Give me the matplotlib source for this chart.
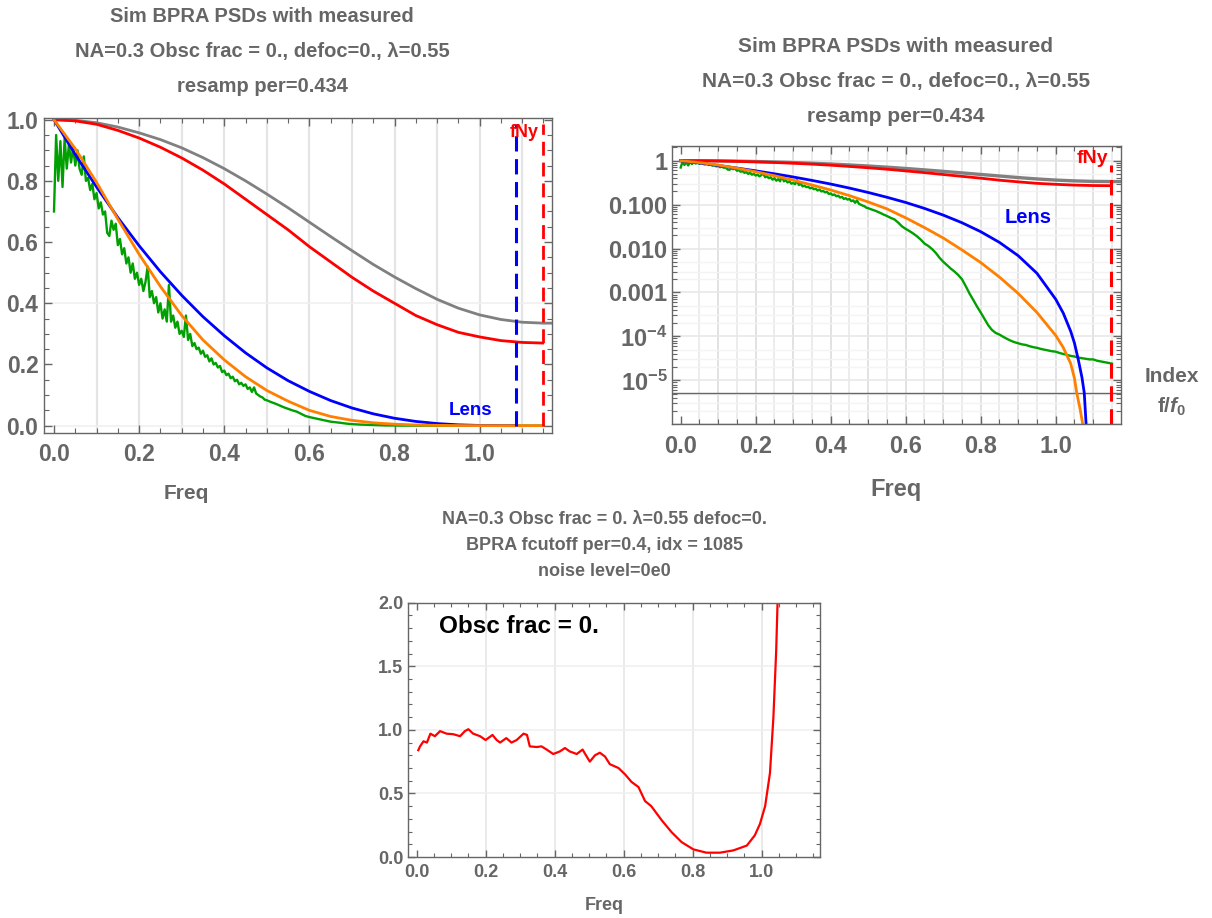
import numpy as np
import matplotlib
matplotlib.use('Agg')
import matplotlib.pyplot as plt
from matplotlib.ticker import (MultipleLocator, FixedLocator, FixedFormatter,
                               NullFormatter, FormatStrFormatter)

plt.rcParams['font.family'] = ['Liberation Sans', 'DejaVu Sans']
plt.rcParams['font.weight'] = 'bold'
plt.rcParams['mathtext.fontset'] = 'custom'
plt.rcParams['mathtext.rm'] = 'Liberation Sans:bold'
plt.rcParams['mathtext.it'] = 'Liberation Sans:italic:bold'
plt.rcParams['mathtext.bf'] = 'Liberation Sans:bold'
plt.rcParams['mathtext.default'] = 'rm'

GRAY = '#666666'

# ---- data ----
f_step = [0.0, 0.05, 0.1, 0.15, 0.2, 0.25, 0.3, 0.35, 0.4, 0.45, 0.5, 0.55,
          0.6, 0.65, 0.7, 0.75, 0.8, 0.85, 0.9, 0.95, 1.0]

gray_f = f_step + [1.05, 1.1, 1.15, 1.17]
gray_v = [1.0, 0.998, 0.99, 0.976, 0.957, 0.935, 0.908, 0.876, 0.84, 0.80, 0.757,
          0.712, 0.665, 0.618, 0.572, 0.527, 0.486, 0.448, 0.413, 0.384, 0.362,
          0.347, 0.338, 0.335, 0.335]

red_f = f_step + [1.05, 1.1, 1.148]
red_v = [1.0, 0.996, 0.985, 0.965, 0.94, 0.91, 0.875, 0.835, 0.79, 0.74, 0.69,
         0.64, 0.585, 0.535, 0.485, 0.44, 0.40, 0.36, 0.33, 0.305, 0.29,
         0.278, 0.272, 0.27]

blue_f = f_step + [1.02, 1.04, 1.05, 1.06, 1.07, 1.076, 1.081, 1.084, 1.086]
blue_v = [1.0, 0.886, 0.780, 0.680, 0.588, 0.503, 0.426, 0.356, 0.294, 0.238,
          0.189, 0.147, 0.112, 0.082, 0.0578, 0.0387, 0.0242, 0.0138, 0.00687,
          0.00273, 7.0e-4, 3.4e-4, 1.3e-4, 7.0e-5, 3.0e-5, 1.15e-5, 5.2e-6,
          1.0e-6, 3e-7, 0.0]

orange_f = f_step + [1.02, 1.04, 1.05, 1.056, 1.065, 1.072, 1.076, 1.148]
orange_v = [1.0, 0.905, 0.795, 0.675, 0.56, 0.455, 0.36, 0.28, 0.215, 0.16, 0.115,
            0.08, 0.05, 0.030, 0.0174, 0.0093, 0.0048, 0.00224, 0.00095, 0.00035,
            1.05e-4, 5.6e-5, 2.4e-5, 1.1e-5, 5.2e-6, 2.2e-6, 1.0e-6, 4e-7, 0.0]

# measured PSD: fine steps below 0.5, coarser above
green_lo = [0.70, 0.95, 0.80, 0.93, 0.78, 0.94, 0.84, 0.92, 0.86, 0.91,
            0.85, 0.90, 0.84, 0.82, 0.88, 0.80, 0.81, 0.77, 0.79, 0.74,
            0.76, 0.71, 0.73, 0.69, 0.70, 0.63, 0.62, 0.67, 0.64, 0.66,
            0.59, 0.61, 0.56, 0.58, 0.53, 0.55, 0.50, 0.53, 0.48, 0.50,
            0.46, 0.48, 0.44, 0.47, 0.52, 0.42, 0.44, 0.40, 0.42, 0.37,
            0.40, 0.35, 0.38, 0.34, 0.46, 0.34, 0.36, 0.32, 0.34, 0.30,
            0.31, 0.29, 0.36, 0.28, 0.30, 0.26, 0.27, 0.25, 0.255, 0.235,
            0.245, 0.225, 0.23, 0.21, 0.22, 0.20, 0.205, 0.19, 0.195, 0.175,
            0.18, 0.165, 0.17, 0.155, 0.16, 0.145, 0.15, 0.135, 0.14, 0.13,
            0.135, 0.12, 0.125, 0.11, 0.125, 0.105, 0.10, 0.095, 0.092, 0.085,
            0.083]
green_hi = [0.077, 0.072, 0.066, 0.060, 0.055, 0.050, 0.046, 0.039, 0.032, 0.028,
            0.025, 0.022, 0.019, 0.016, 0.013, 0.0115, 0.0098, 0.0080, 0.0062, 0.0050,
            0.0042, 0.0035, 0.0030, 0.0025, 0.0020, 0.0014, 0.00095, 0.00068, 0.00048, 0.00035,
            0.00025, 0.00018, 0.00014, 0.00012, 0.00011, 9.8e-5, 8.8e-5, 8.0e-5, 7.4e-5, 7.0e-5,
            6.6e-5, 6.4e-5, 6.0e-5, 5.7e-5, 5.5e-5, 5.2e-5, 5.0e-5, 4.8e-5, 4.6e-5, 4.5e-5,
            4.2e-5, 4.0e-5, 3.8e-5, 3.6e-5, 3.5e-5, 3.3e-5, 3.2e-5, 3.1e-5, 3.0e-5, 3.0e-5,
            2.8e-5, 2.7e-5, 2.6e-5, 2.5e-5, 2.4e-5]
green_f = np.concatenate([np.linspace(0, 0.5, len(green_lo)),
                          np.linspace(0.51, 1.15, len(green_hi))])
green_v = np.array(green_lo + green_hi)

ratio_f = [0.005, 0.01, 0.02, 0.03, 0.04, 0.053, 0.068, 0.087, 0.106, 0.126, 0.14, 0.15,
           0.164, 0.184, 0.20, 0.22, 0.232, 0.242, 0.26, 0.275, 0.29, 0.31, 0.32, 0.328,
           0.348, 0.362, 0.377, 0.396, 0.415, 0.43, 0.444, 0.464, 0.481, 0.493, 0.502,
           0.517, 0.531, 0.546, 0.56, 0.585, 0.604, 0.623, 0.643, 0.662, 0.68, 0.71,
           0.739, 0.768, 0.802, 0.84, 0.879, 0.918, 0.957, 0.98, 0.995, 1.01, 1.024,
           1.034, 1.042, 1.046, 1.049]
ratio_v = [0.84, 0.87, 0.91, 0.90, 0.97, 0.95, 0.99, 0.97, 0.966, 0.95, 0.99, 1.005,
           0.97, 0.95, 0.92, 0.96, 0.92, 0.90, 0.935, 0.90, 0.92, 0.97, 0.96, 0.87,
           0.865, 0.87, 0.845, 0.81, 0.83, 0.857, 0.83, 0.81, 0.845, 0.79, 0.75,
           0.80, 0.82, 0.79, 0.73, 0.70, 0.65, 0.59, 0.55, 0.44, 0.40, 0.29,
           0.195, 0.117, 0.06, 0.034, 0.034, 0.052, 0.09, 0.17, 0.26, 0.40, 0.66,
           1.10, 1.62, 2.0, 2.3]

f_nyq = 1.148
f_lens = 1.086
noise_floor = 5.2e-6

RED, BLUE, ORANGE, GREEN, LGRAY = '#ff0000', '#0000ff', '#ff8000', '#00a000', '#808080'

title_lines = ['Sim BPRA PSDs with measured',
               'NA=0.3 Obsc frac = 0., defoc=0., \u03bb=0.55',
               'resamp per=0.434']
ratio_title = ['NA=0.3 Obsc frac = 0. \u03bb=0.55 defoc=0.',
               'BPRA fcutoff per=0.4, idx = 1085',
               'noise level=0e0']


def style_frame(ax, size):
    for s in ax.spines.values():
        s.set_color(GRAY)
        s.set_linewidth(1.0)
    ax.tick_params(which='both', direction='in', top=True, right=True,
                   colors=GRAY, labelcolor=GRAY, labelsize=size)
    ax.tick_params(which='major', length=6, width=1)
    ax.tick_params(which='minor', length=3.5, width=0.8)
    for lab in ax.get_xticklabels() + ax.get_yticklabels():
        lab.set_fontweight('bold')


fig = plt.figure(figsize=(12.12, 9.18), dpi=100)
W, H = 1212.0, 918.0


def add_ax(left, right, top, bottom):
    return fig.add_axes([left / W, 1 - bottom / H, (right - left) / W, (bottom - top) / H])


# ---------- top-left: linear ----------
ax1 = add_ax(44, 552, 118, 433)
ax1.set_xlim(-0.0235, 1.170)
ax1.set_ylim(-0.024, 1.0055)
for x in np.arange(0.1, 1.15, 0.1):
    ax1.axvline(x, color='#e4e4e4', lw=1.6, zorder=0)
ax1.axhline(0.4, color='#f0f0f0', lw=1.2, zorder=0)
ax1.axhline(0.0, color='#f0f0f0', lw=1.2, zorder=0)
ax1.plot(gray_f, gray_v, color=LGRAY, lw=2.0)
ax1.plot(red_f, red_v, color=RED, lw=2.0)
ax1.plot(green_f, green_v, color=GREEN, lw=1.7)
ax1.plot(blue_f, blue_v, color=BLUE, lw=2.0)
ax1.plot(orange_f, orange_v, color=ORANGE, lw=2.0)
ax1.plot([f_lens, f_lens], [0, 0.985], color=BLUE, lw=2.2, dashes=(5, 2.5))
ax1.plot([f_nyq, f_nyq], [0, 0.985], color=RED, lw=2.0, dashes=(5, 2.5))
ax1.text(1.14, 0.985, 'fNy', color=RED, fontsize=13, fontweight='bold', ha='right', va='top')
ax1.text(0.978, 0.051, 'Lens', color=BLUE, fontsize=13.5, fontweight='bold', ha='center', va='center')
ax1.xaxis.set_major_locator(MultipleLocator(0.2))
ax1.xaxis.set_minor_locator(MultipleLocator(0.05))
ax1.yaxis.set_major_locator(MultipleLocator(0.2))
ax1.yaxis.set_minor_locator(MultipleLocator(0.05))
ax1.xaxis.set_major_formatter(FormatStrFormatter('%.1f'))
ax1.yaxis.set_major_formatter(FormatStrFormatter('%.1f'))
style_frame(ax1, 16.5)
ax1.tick_params(axis='x', pad=7)
ax1.tick_params(axis='y', pad=4)
fig.text(186 / W, 1 - 493 / H, 'Freq', color=GRAY, fontsize=15, fontweight='bold', ha='center', va='center')
for i, line in enumerate(title_lines):
    fig.text(262 / W, 1 - (17 + 35 * i) / H, line, color=GRAY, fontsize=14.5,
             fontweight='bold', ha='center', va='center')

# ---------- top-right: log ----------
ax2 = add_ax(671.7, 1121, 146, 424.3)
ax2.set_yscale('log')
ax2.set_xlim(-0.024, 1.174)
ax2.set_ylim(1.0e-6, 2.16)
for x in np.arange(0.05, 1.16, 0.05):
    ax2.axvline(x, color='#e2e2e2' if round(x * 20) % 2 == 0 else '#ececec', lw=1.4, zorder=0)
for d in range(-6, 1):
    ax2.axhline(10.0 ** d, color='#e8e8e8', lw=1.2, zorder=0)
    for m in (2, 3, 5):
        ax2.axhline(m * 10.0 ** d, color='#f3f3f3', lw=1.0, zorder=0)
ax2.axhline(noise_floor, color=GRAY, lw=1.0, zorder=1)
ax2.plot(gray_f, gray_v, color=LGRAY, lw=2.4)
ax2.plot(red_f, red_v, color=RED, lw=2.0)
ax2.plot(green_f, green_v, color=GREEN, lw=1.7)
bv = np.array(blue_v)
ov = np.array(orange_v)
ax2.plot(blue_f, np.where(bv > 0, bv, np.nan), color=BLUE, lw=2.0)
ax2.plot(orange_f, np.where(ov > 0, ov, np.nan), color=ORANGE, lw=2.0)
ax2.plot([f_nyq, f_nyq], [1e-6, 0.8], color=RED, lw=2.2, dashes=(5, 2.5))
ax2.text(1.14, 1.75, 'fNy', color=RED, fontsize=14, fontweight='bold', ha='right', va='top')
ax2.text(0.926, 0.052, 'Lens', color=BLUE, fontsize=14.5, fontweight='bold', ha='center', va='center')
ax2.xaxis.set_major_locator(MultipleLocator(0.2))
ax2.xaxis.set_minor_locator(MultipleLocator(0.05))
ax2.xaxis.set_major_formatter(FormatStrFormatter('%.1f'))
ytick_vals = [1.0, 0.1, 0.01, 0.001, 1e-4, 1e-5]
ytick_labs = ['1', '0.100', '0.010', '0.001', r'$10^{-4}$', r'$10^{-5}$']
ax2.yaxis.set_major_locator(FixedLocator(ytick_vals))
ax2.yaxis.set_major_formatter(FixedFormatter(ytick_labs))
minor = [m * 10.0 ** d for d in range(-6, 1) for m in range(2, 10)]
ax2.yaxis.set_minor_locator(FixedLocator(minor))
ax2.yaxis.set_minor_formatter(NullFormatter())
style_frame(ax2, 17)
ax2.tick_params(axis='x', pad=8)
ax2.tick_params(axis='y', pad=3)
fig.text(896 / W, 1 - 490 / H, 'Freq', color=GRAY, fontsize=17, fontweight='bold', ha='center', va='center')
fig.text(1172 / W, 1 - 376 / H, 'Index', color=GRAY, fontsize=15, fontweight='bold', ha='center', va='center')
fig.text(1172 / W, 1 - 407 / H, r'f/$\mathit{f}_0$', color=GRAY, fontsize=15, fontweight='bold', ha='center', va='center')
for i, line in enumerate(title_lines):
    fig.text(896 / W, 1 - (47 + 35 * i) / H, line, color=GRAY, fontsize=15,
             fontweight='bold', ha='center', va='center')

# ---------- bottom: ratio ----------
ax3 = add_ax(408.3, 820, 602.7, 857)
ax3.set_xlim(-0.024, 1.169)
ax3.set_ylim(0, 2.0)
for x in (0.2, 0.4, 0.6, 0.8, 1.0):
    ax3.axvline(x, color='#e6e6e6', lw=1.2, zorder=0)
for y in (0.5, 1.0, 1.5):
    ax3.axhline(y, color='#f0f0f0', lw=1.2, zorder=0)
ax3.plot(ratio_f, ratio_v, color=RED, lw=1.6)
ax3.text(0.065, 1.81, 'Obsc frac = 0.', color='black', fontsize=17.5, fontweight='bold', ha='left', va='center')
ax3.xaxis.set_major_locator(MultipleLocator(0.2))
ax3.xaxis.set_minor_locator(MultipleLocator(0.05))
ax3.yaxis.set_major_locator(MultipleLocator(0.5))
ax3.yaxis.set_minor_locator(MultipleLocator(0.1))
ax3.xaxis.set_major_formatter(FormatStrFormatter('%.1f'))
ax3.yaxis.set_major_formatter(FormatStrFormatter('%.1f'))
style_frame(ax3, 13)
ax3.tick_params(which='major', length=5)
ax3.tick_params(which='minor', length=3)
ax3.tick_params(axis='x', pad=5)
fig.text(604 / W, 1 - 905 / H, 'Freq', color=GRAY, fontsize=13, fontweight='bold', ha='center', va='center')
for i, line in enumerate(ratio_title):
    fig.text(604 / W, 1 - (519 + 26 * i) / H, line, color=GRAY, fontsize=13,
             fontweight='bold', ha='center', va='center')

fig.savefig('out.png', dpi=100)
